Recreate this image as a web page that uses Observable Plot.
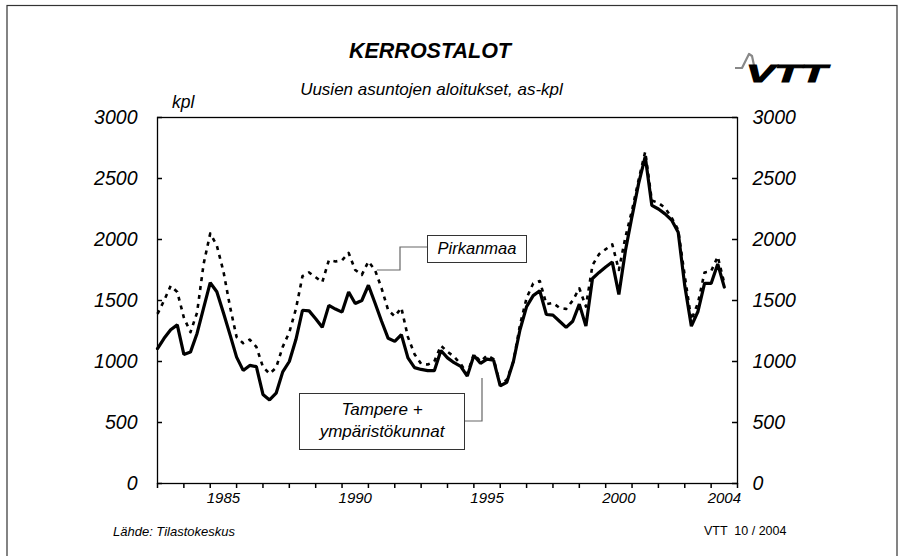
<!DOCTYPE html>
<html>
<head>
<meta charset="utf-8">
<script src="https://cdn.jsdelivr.net/npm/d3@7"></script>
<script src="https://cdn.jsdelivr.net/npm/@observablehq/plot@0.6"></script>
<style>
  html, body { margin: 0; padding: 0; background: #fff; }
  #wrap { position: relative; width: 904px; height: 556px; overflow: hidden; font-family: "Liberation Sans", Arial, sans-serif; }
  #wrap > svg.chart { position: absolute; left: 0; top: 0; }
  .t { position: absolute; white-space: nowrap; color: #000; }
  .box { position: absolute; border: 1px solid #333; background: #fff; font-style: italic; font-size: 16.5px; text-align: center; box-sizing: border-box; }
</style>
</head>
<body>
<div id="wrap"></div>
<script>
// ---- data (quarterly, starting 1983 Q1) ----
const firstYear = 1983;
const quartersPerYear = 4;
const tampere = [1105,1190,1260,1300,1058,1077,1230,1440,1646,1572,
  1400,1220,1036,927,968,958,730,685,740,915,
  1000,1180,1420,1415,1350,1280,1460,1430,1405,1570,
  1475,1500,1625,1480,1330,1190,1165,1220,1030,950,
  935,925,925,1090,1030,990,960,880,1050,985,
  1020,1010,800,830,1000,1260,1450,1540,1580,1385,
  1380,1330,1280,1330,1470,1290,1680,1730,1775,1815,
  1550,1910,2190,2460,2680,2280,2250,2210,2160,2060,
  1620,1290,1410,1640,1640,1800,1610];
const pirkanmaa = [1390,1500,1620,1570,1360,1240,1400,1800,2050,1950,
  1740,1450,1200,1150,1180,1120,955,900,950,1120,
  1240,1430,1700,1730,1690,1650,1830,1820,1830,1890,
  1750,1710,1820,1750,1600,1420,1370,1440,1200,1060,
  980,975,1000,1130,1080,1040,980,900,1060,1000,
  1050,1020,810,850,1000,1300,1520,1640,1660,1470,
  1480,1440,1430,1500,1600,1450,1790,1880,1920,1960,
  1750,2020,2240,2490,2720,2320,2300,2260,2180,2080,
  1700,1340,1480,1730,1740,1860,1640];
const yTicks = [0,500,1000,1500,2000,2500,3000];
const yearBounds = d3.range(1983, 2006);
const xLabels = [1985,1990,1995,2000,2004];
const xDomain = [1983, 2005];

const rows = tampere.map((v, i) => ({t: firstYear + i / quartersPerYear, tampere: v, pirkanmaa: pirkanmaa[i]}));

const font = "'Liberation Sans', Arial, sans-serif";
const W = 904, H = 556, ML = 157, MR = 167, MT = 117, MB = 73;
const plotW = W - ML - MR, plotH = H - MT - MB;
const chart = Plot.plot({
  width: W, height: H,
  marginLeft: ML, marginRight: MR, marginTop: MT, marginBottom: MB,
  style: {fontFamily: font, background: "transparent", color: "#000"},
  x: {domain: xDomain},
  y: {domain: [0, 3000]},
  marks: [
    Plot.frame({stroke: "#000", strokeWidth: 1.3}),
    Plot.axisY({anchor: "left", ticks: yTicks, tickSize: 0, tickPadding: 20, fontSize: 19.5, fontStyle: "italic", tickFormat: d => String(d), label: null}),
    Plot.axisY({anchor: "right", ticks: yTicks, tickSize: 0, tickPadding: 15, fontSize: 19.5, fontStyle: "italic", tickFormat: d => String(d), label: null}),
    Plot.axisX({ticks: xLabels.map(y => y + 0.5), tickSize: 0, tickPadding: 9, fontSize: 15, fontStyle: "italic", tickFormat: d => String(d - 0.5), label: null}),
    Plot.line(rows, {x: "t", y: "pirkanmaa", stroke: "#000", strokeWidth: 2.6, strokeDasharray: "4,5", strokeLinecap: "butt"}),
    Plot.line(rows, {x: "t", y: "tampere", stroke: "#000", strokeWidth: 3.2, strokeLinejoin: "miter"}),
    // tick marks: inward on the y axes, outward below the x axis
    Plot.tickY(yTicks, {y: d => d, stroke: "#000", strokeWidth: 1.5, insetRight: plotW - 5}),
    Plot.tickY(yTicks, {y: d => d, stroke: "#000", strokeWidth: 1.5, insetLeft: plotW - 5}),
    Plot.tickX(yearBounds, {x: d => d, stroke: "#000", strokeWidth: 1.5, insetTop: plotH, insetBottom: -5})
  ]
});
chart.classList.add("chart");
const wrap = document.getElementById("wrap");
wrap.appendChild(chart);

function addText(txt, css) {
  const d = document.createElement("div");
  d.className = "t";
  d.textContent = txt;
  Object.assign(d.style, css);
  wrap.appendChild(d);
  return d;
}
// titles
addText("KERROSTALOT", {left: "0px", width: "860px", textAlign: "center", top: "39px", fontSize: "21.5px", fontWeight: "bold", fontStyle: "italic"});
addText("Uusien asuntojen aloitukset, as-kpl", {left: "0px", width: "863px", textAlign: "center", top: "80px", fontSize: "17px", fontStyle: "italic"});
addText("kpl", {left: "172px", top: "92px", fontSize: "17.5px", fontStyle: "italic"});
addText("Lähde: Tilastokeskus", {left: "113px", top: "524px", fontSize: "13px", fontStyle: "italic"});
addText("VTT  10 / 2004", {left: "704px", top: "524px", fontSize: "12.5px", whiteSpace: "pre"});

// annotation boxes
const b1 = document.createElement("div");
b1.className = "box";
Object.assign(b1.style, {left: "427px", top: "235px", width: "100px", height: "28px", lineHeight: "25px"});
b1.textContent = "Pirkanmaa";
wrap.appendChild(b1);
const b2 = document.createElement("div");
b2.className = "box";
Object.assign(b2.style, {left: "299px", top: "393px", width: "166px", height: "57px", lineHeight: "22px", paddingTop: "5px", fontSize: "17px"});
b2.innerHTML = "Tampere +<br>ympäristökunnat";
wrap.appendChild(b2);

// overlay: leader lines, logo, page border
const ns = "http://www.w3.org/2000/svg";
const ov = document.createElementNS(ns, "svg");
ov.setAttribute("width", 904); ov.setAttribute("height", 556);
ov.style.position = "absolute"; ov.style.left = "0"; ov.style.top = "0"; ov.style.pointerEvents = "none";
ov.innerHTML = `
  <rect x="7" y="5.5" width="890" height="600" fill="none" stroke="#333" stroke-width="1.2"/>
  <path d="M427,247 H400 V270 H377" fill="none" stroke="#666" stroke-width="1.2"/>
  <path d="M465,421 H482 V378" fill="none" stroke="#666" stroke-width="1.2"/>
  <path d="M735,68 H742 L746,60 L749,54 L752,56 L755,70" fill="none" stroke="#888" stroke-width="2.2" stroke-linejoin="round"/>
  <text x="746" y="82" font-family="${font}" font-size="24" font-weight="900" font-style="italic" textLength="81" lengthAdjust="spacingAndGlyphs" fill="#000" stroke="#000" stroke-width="1">VTT</text>
`;
wrap.appendChild(ov);
</script>
</body>
</html>
